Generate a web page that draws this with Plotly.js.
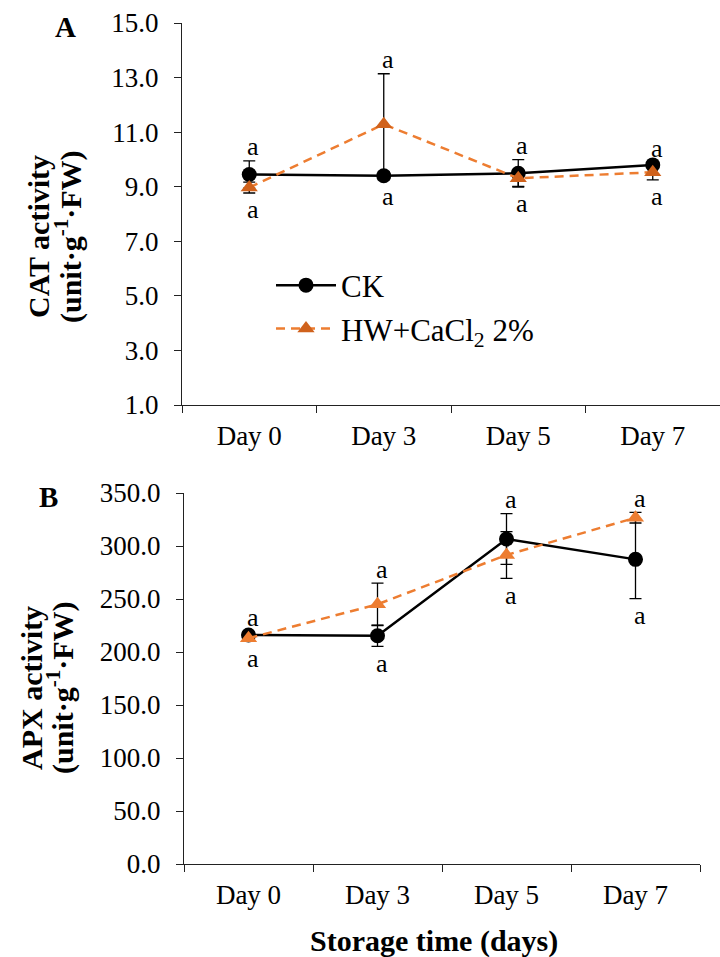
<!DOCTYPE html>
<html>
<head>
<meta charset="utf-8">
<script src="https://cdn.plot.ly/plotly-3.0.1.min.js"></script>
<style>html,body{margin:0;padding:0;background:#fff;}</style>
</head>
<body>
<div id="chart" style="width:720px;height:957px;"></div>
<script>
// ---- data ----
var days = ['Day 0', 'Day 3', 'Day 5', 'Day 7'];
var seriesNames = ['CK', 'HW+CaCl<sub>2</sub> 2%'];

// Panel A: CAT activity
var catCK = [9.45, 9.40, 9.49, 9.80];
var catCKErr = [0.50, 0.15, 0.50, 0.10];
var catHW = [8.97, 11.29, 9.31, 9.53];
var catHWErr = [0.20, 1.85, 0.30, 0.28];
var catLettersAbove = ['a', 'a', 'a', 'a'];
var catLettersBelow = ['a', 'a', 'a', 'a'];

// Panel B: APX activity
var apxCK = [216.0, 215.4, 306.6, 287.4];
var apxCKErr = [3.0, 10.0, 24.0, 37.0];
var apxHW = [213.0, 245.0, 291.5, 326.7];
var apxHWErr = [3.0, 20.0, 22.0, 5.0];
var apxLettersAbove = ['a', 'a', 'a', 'a'];
var apxLettersBelow = ['a', 'a', 'a', 'a'];

// ---- styles ----
var FONT = 'Liberation Serif, Times New Roman, serif';
var ORANGE = '#ED7D31';
var ORANGE_DARK = '#D0621C';

function ckTrace(y, e, xa, ya, show) {
  return {
    x: days, y: y, xaxis: xa, yaxis: ya, type: 'scatter', mode: 'lines+markers',
    name: seriesNames[0], showlegend: show, legendgroup: 'ck',
    line: {color: '#000', width: 2.5},
    marker: {color: '#000', size: 15, symbol: 'circle'},
    error_y: {type: 'data', array: e, visible: true, color: '#000', thickness: 1.3, width: 6}
  };
}
function hwTrace(y, e, xa, ya, show, mc) {
  return {
    x: days, y: y, xaxis: xa, yaxis: ya, type: 'scatter', mode: 'lines+markers',
    name: seriesNames[1], showlegend: show, legendgroup: 'hw',
    line: {color: ORANGE, width: 2.5, dash: '9px,6px'},
    marker: {color: mc, size: 15, symbol: 'triangle-up'},
    error_y: {type: 'data', array: e, visible: true, color: '#000', thickness: 1.3, width: 6}
  };
}

var data = [
  ckTrace(catCK, catCKErr, 'x', 'y', true),
  hwTrace(catHW, catHWErr, 'x', 'y', true, ORANGE_DARK),
  ckTrace(apxCK, apxCKErr, 'x2', 'y2', false),
  hwTrace(apxHW, apxHWErr, 'x2', 'y2', false, ORANGE)
];

// significance letters placed relative to error-bar ends
var annotations = [];
function addLetters(ck, ckE, hw, hwE, above, below, xr, yr) {
  for (var i = 0; i < days.length; i++) {
    var hi = Math.max(ck[i] + ckE[i], hw[i] + hwE[i]);
    var lo = Math.min(ck[i] - ckE[i], hw[i] - hwE[i]);
    annotations.push({x: days[i], y: hi, xref: xr, yref: yr, text: above[i], showarrow: false,
      yshift: 14, xshift: 4, font: {family: FONT, size: 26, color: '#000'}});
    annotations.push({x: days[i], y: lo, xref: xr, yref: yr, text: below[i], showarrow: false,
      yshift: -17, xshift: 4, font: {family: FONT, size: 26, color: '#000'}});
  }
}
addLetters(catCK, catCKErr, catHW, catHWErr, catLettersAbove, catLettersBelow, 'x', 'y');
addLetters(apxCK, apxCKErr, apxHW, apxHWErr, apxLettersAbove, apxLettersBelow, 'x2', 'y2');

function px2x(p) { return p / 720; }
function px2y(p) { return (957 - p) / 957; }
function txt(text, xp, yp, size, bold, angle) {
  annotations.push({text: bold ? '<b>' + text + '</b>' : text, xref: 'paper', yref: 'paper',
    x: px2x(xp), y: px2y(yp), xanchor: 'center', yanchor: 'middle', showarrow: false,
    textangle: angle || 0, font: {family: FONT, size: size, color: '#000'}});
}
txt('A', 65, 27, 29, true);
txt('B', 48, 497, 29, true);
txt('CAT activity', 39, 237, 30, true, -90);
txt('(unit·g<sup>-1</sup>·FW)', 69, 237, 30, true, -90);
txt('APX activity', 31, 688, 30, true, -90);
txt('(unit·g<sup>-1</sup>·FW)', 60, 688, 30, true, -90);
txt('Storage time (days)', 434, 941, 30, true);

function xAxis(domain, anchor) {
  return {domain: domain, anchor: anchor, type: 'category', range: [-0.5, 3.5],
    showline: true, linecolor: '#222', linewidth: 1.2, showgrid: false, zeroline: false,
    ticks: 'outside', ticklen: 7, tickcolor: '#222', tickson: 'boundaries',
    tickfont: {family: FONT, size: 27, color: '#000'}, ticklabelstandoff: 6};
}
function yAxis(domain, anchor, range, dtick) {
  return {domain: domain, anchor: anchor, range: range, dtick: dtick, tick0: range[0],
    tickformat: '.1f', showline: true, linecolor: '#222', linewidth: 1.2,
    showgrid: false, zeroline: false, ticks: 'outside', ticklen: 7, tickcolor: '#222',
    tickfont: {family: FONT, size: 27, color: '#000'}, ticklabelstandoff: 10};
}

var layout = {
  width: 720, height: 957,
  margin: {l: 0, r: 0, t: 0, b: 0},
  paper_bgcolor: '#fff', plot_bgcolor: 'rgba(0,0,0,0)',
  showlegend: true,
  legend: {x: px2x(271), y: px2y(307), xanchor: 'left', yanchor: 'middle',
    bgcolor: 'rgba(0,0,0,0)', font: {family: FONT, size: 31, color: '#000'},
    traceorder: 'normal', itemwidth: 60},
  xaxis: xAxis([px2x(182), 1], 'y'),
  yaxis: yAxis([px2y(405), px2y(23)], 'x', [1, 15], 2),
  xaxis2: xAxis([px2x(184), px2x(700)], 'y2'),
  yaxis2: yAxis([px2y(864), px2y(493)], 'x2', [0, 350], 50),
  annotations: annotations
};

Plotly.newPlot('chart', data, layout, {displayModeBar: false, staticPlot: true});
</script>
</body>
</html>
